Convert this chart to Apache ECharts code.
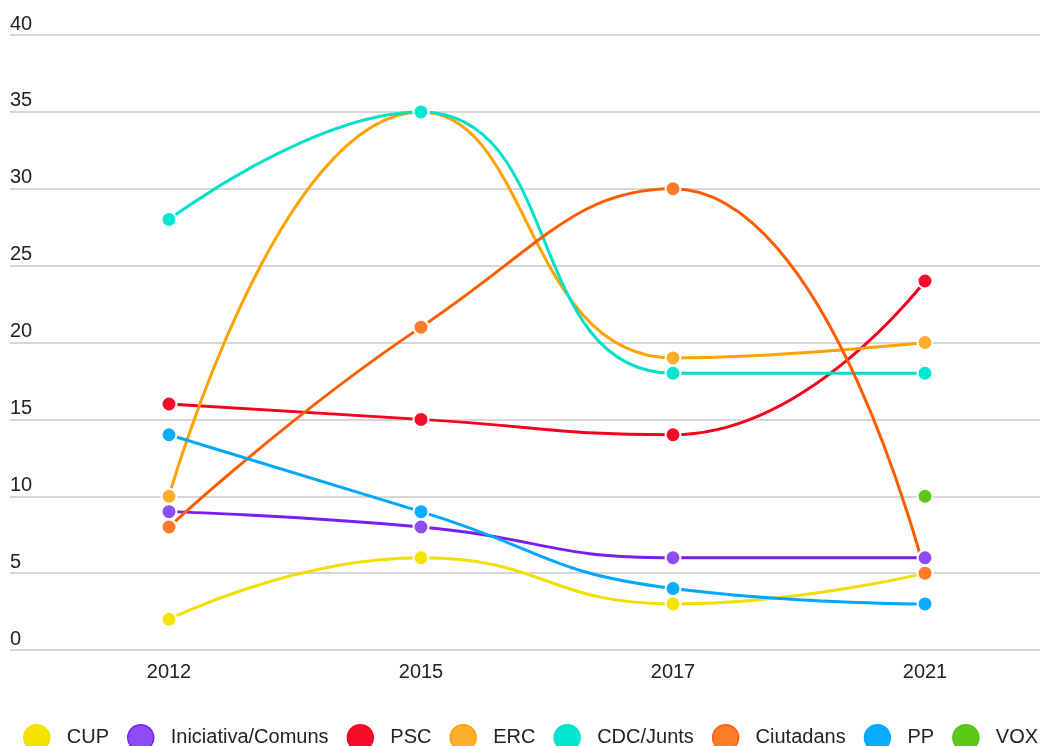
<!DOCTYPE html>
<html>
<head>
<meta charset="utf-8">
<script src="https://cdn.jsdelivr.net/npm/echarts@6/dist/echarts.min.js"></script>
<style>
html, body { margin: 0; padding: 0; background: #fff; }
#main { width: 1040px; height: 746px; }
</style>
</head>
<body>
<div id="main"></div>
<script>
// dades
var years = ['2012', '2015', '2017', '2021'];
var partits = ['CUP', 'Iniciativa/Comuns', 'PSC', 'ERC', 'CDC/Junts', 'Ciutadans', 'PP', 'VOX'];
var cup = [2, 6, 3, 5];
var comuns = [9, 8, 6, 6];
var psc = [16, 15, 14, 24];
var erc = [10, 35, 19, 20];
var junts = [28, 35, 18, 18];
var ciutadans = [8, 21, 30, 5];
var pp = [14, 9, 4, 3];
var vox = ['-', '-', '-', 10];
var yTicks = [0, 40, 5]; // min, max, interval

// colors: linia / punt
var lineColors = ['#f2de00', '#7a1ef0', '#f5001e', '#ffa200', '#00e0c8', '#ff5c00', '#00a6ff', '#4cc010'];
var fillColors = ['#f4e400', '#8c4cf6', '#f80a2a', '#ffad2e', '#00e6d0', '#ff7b2a', '#0aacff', '#5cc818'];

var valors = [cup, comuns, psc, erc, junts, ciutadans, pp, vox];

var oChart = echarts.init(document.getElementById('main'));

var series = [];
var legendData = [];
for (var i = 0; i < partits.length; i++) {
    series.push({
        name: partits[i],
        type: 'line',
        xAxisIndex: 1,
        yAxisIndex: 1,
        smooth: true,
        symbol: 'circle',
        symbolSize: 15,
        showAllSymbol: true,
        connectNulls: false,
        lineStyle: { width: 3, color: lineColors[i] },
        itemStyle: { color: fillColors[i], borderColor: '#fff', borderWidth: 2 },
        data: valors[i]
    });
    legendData.push({
        name: partits[i],
        itemStyle: { color: fillColors[i], borderColor: lineColors[i], borderWidth: 1.5 }
    });
}

var option = {
    animation: false,
    textStyle: { fontFamily: 'Liberation Sans, Arial, sans-serif' },
    grid: [
        { left: 10, right: 0, top: 35, bottom: 96, outerBoundsMode: 'none' },
        { left: 43, width: 1008, top: 35, bottom: 96, outerBoundsMode: 'none' }
    ],
    xAxis: [
        { type: 'value', gridIndex: 0, show: false, min: 0, max: 1 },
        {
            type: 'category',
            gridIndex: 1,
            data: years,
            boundaryGap: true,
            axisLine: { show: false },
            axisTick: { show: false },
            axisLabel: { fontSize: 20, color: '#222', margin: 12 }
        }
    ],
    yAxis: [
        {
            type: 'value',
            gridIndex: 0,
            min: yTicks[0],
            max: yTicks[1],
            interval: yTicks[2],
            axisLine: { show: false },
            axisTick: { show: false },
            axisLabel: {
                inside: true,
                margin: 0,
                align: 'left',
                verticalAlign: 'bottom',
                padding: [0, 0, 1, 0],
                fontSize: 20,
                color: '#222'
            },
            splitLine: { lineStyle: { color: '#d6d6d6', width: 2 } }
        },
        {
            type: 'value',
            gridIndex: 1,
            min: yTicks[0],
            max: yTicks[1],
            interval: yTicks[2],
            show: false,
            splitLine: { show: false }
        }
    ],
    legend: {
        data: legendData,
        left: 23,
        top: 724,
        width: 1040,
        padding: 0,
        icon: 'circle',
        itemWidth: 26,
        itemHeight: 26,
        itemGap: 18,
        textStyle: { fontSize: 20, color: '#222', padding: [0, 0, 0, 12] }
    },
    series: series
};

oChart.setOption(option);
</script>
</body>
</html>
